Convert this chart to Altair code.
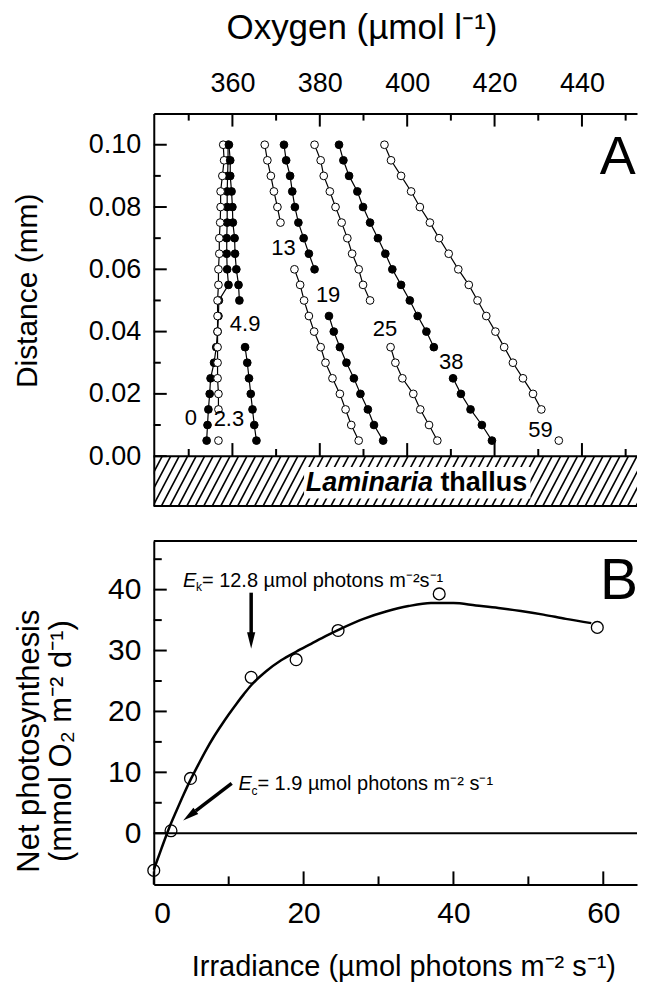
import altair as alt
import pandas as pd

FONT = "Liberation Sans"

# ---------------- Panel A: oxygen micro-profiles ----------------
DIST = [0.100, 0.095, 0.090, 0.085, 0.080, 0.075, 0.070, 0.065, 0.060, 0.055,
        0.050, 0.045, 0.040, 0.035, 0.030, 0.025, 0.020, 0.015, 0.010, 0.005]

O2_0 = [359.0, 359.0, 358.9, 358.8, 358.8, 358.8, 358.7, 358.7, 358.8, 359.1,
        356.9, 356.8, 356.6, 356.3, 355.8, 355.0, 354.8, 354.5, 354.3, 354.1]
O2_2_3 = [357.9, 358.1, 357.7, 357.3, 357.3, 357.2, 357.0, 357.0, 356.8, 356.8,
          356.6, 356.6, 356.6, 356.6, 356.6, 356.6, 356.8, 356.8, None, 356.8]
O2_4_9 = [359.2, 359.5, 359.5, 359.8, 360.0, 360.1, 360.5, 360.6, 360.9, 361.4,
          361.6, None, None, 362.9, 363.4, 363.8, 364.2, 364.6, 365.0, 365.5]
O2_13 = [367.4, 368.0, 368.8, 369.5, 370.3, 371.0, None, None, 374.2, 375.5,
         376.4, 377.5, 378.7, 380.2, 381.3, 382.9, 384.6, 385.9, 387.2, 388.9]
O2_19 = [371.8, 372.3, 373.2, 373.7, 374.3, 375.1, 376.3, 377.5, 378.8, None,
         None, 382.1, 383.2, 384.6, 386.1, 387.8, 389.3, 391.0, 392.4, 394.5]
O2_25 = [378.8, 380.2, 380.9, 382.3, 383.6, 385.0, 386.3, 387.4, 388.9, 389.9,
         391.5, None, None, 396.2, 397.3, 398.9, 401.4, 403.0, 405.0, 406.9]
O2_38 = [384.4, 385.4, 386.7, 388.6, 389.9, 391.5, 393.3, 395.0, 396.6, 398.6,
         400.6, 402.4, 404.4, 406.1, None, 410.5, 412.3, 414.5, 417.1, 419.4]
O2_59 = [394.8, 396.3, 398.6, 400.9, 402.9, 405.2, 407.3, 409.5, 411.7, 414.1,
         416.1, 418.1, 420.2, 422.2, 424.2, 426.5, 428.8, 430.7, None, 434.7]

PROFILE_NAMES = ["0", "2.3", "4.9", "13", "19", "25", "38", "59"]
PROFILE_STYLE = ["filled", "open", "filled", "open", "filled", "open", "filled", "open"]
PROFILES = [O2_0, O2_2_3, O2_4_9, O2_13, O2_19, O2_25, O2_38, O2_59]

LABEL_X = [350.5, 359.2, 362.9, 371.7, 381.9, 394.9, 410.1, 430.5]
LABEL_Y = [0.0123, 0.0118, 0.0424, 0.0668, 0.0518, 0.0409, 0.0301, 0.0085]

A_X_MAJOR = [360, 380, 400, 420, 440]
A_X_MINOR = [350, 370, 390, 410, 430, 450]
A_Y_MAJOR = [0.0, 0.02, 0.04, 0.06, 0.08, 0.10]
A_Y_MINOR = [0.01, 0.03, 0.05, 0.07, 0.09]

# ---------------- Panel B: P-I curve ----------------
IRR = [0.0, 2.3, 4.9, 13.0, 19.0, 24.6, 38.1, 59.2]
NETPS = [-6.1, 0.4, 9.0, 25.6, 28.5, 33.3, 39.3, 33.8]
FIT_IRR = [0, 1, 2, 3, 4, 5, 6, 7, 8, 9, 10, 11, 12, 13, 15, 17, 19, 21, 23, 25,
           28, 31, 34, 37, 40, 43, 46, 49, 52, 55, 58.4]
FIT_NETPS = [-6.0, -2.6, 0.7, 3.6, 6.4, 9.0, 11.4, 13.7, 15.8, 17.7, 19.5, 21.2,
             22.8, 24.3, 26.6, 28.4, 29.8, 31.1, 32.4, 33.6, 35.2, 36.4, 37.3,
             37.8, 37.8, 37.4, 37.0, 36.5, 35.9, 35.2, 34.5]

B_X_MAJOR = [0, 20, 40, 60]
B_X_MINOR = [10, 30, 50]
B_Y_MAJOR = [0, 10, 20, 30, 40]
B_Y_MINOR = [5, 15, 25, 35, 45]

# ---------------- tables ----------------
rows = []
for name, style, vals in zip(PROFILE_NAMES, PROFILE_STYLE, PROFILES):
    seg = 0
    for d, v in zip(DIST, vals):
        if v is None:
            seg += 1
            continue
        rows.append({"x": v, "y": d, "profile": name, "style": style,
                     "seg": f"{name}-{seg}"})
prof_df = pd.DataFrame(rows)
lab_df = pd.DataFrame({"x": LABEL_X, "y": LABEL_Y, "t": PROFILE_NAMES})

pts_df = pd.DataFrame({"x": IRR, "y": NETPS})
fit_df = pd.DataFrame({"x": FIT_IRR, "y": FIT_NETPS})

W = 484
HA = 393
HB = 344
XA_DOM = [342, 452.6]
YA_DOM = [-0.016, 0.11]
XB_DOM = [0, 64.5]
YB_DOM = [-8.4, 48]

sxa = alt.Scale(domain=XA_DOM, nice=False, zero=False)
sya = alt.Scale(domain=YA_DOM, nice=False, zero=False)
sxb = alt.Scale(domain=XB_DOM, nice=False, zero=False)
syb = alt.Scale(domain=YB_DOM, nice=False, zero=False)

axa = alt.Axis(orient="top", values=A_X_MAJOR, ticks=False, tickSize=0,
               labelFontSize=27, labelPadding=16, domainWidth=2,
               titleFontSize=35, titleFontWeight="normal", titlePadding=24,
               titleX=208, grid=False)
aya = alt.Axis(values=A_Y_MAJOR, format=".2f", ticks=False, tickSize=0,
               labelFontSize=27, labelPadding=13, domainWidth=2,
               titleFontSize=30, titleFontWeight="normal", titlePadding=46,
               titleY=177, grid=False)
axb = alt.Axis(orient="bottom", values=B_X_MAJOR, ticks=False, tickSize=0,
               labelFontSize=30, labelPadding=14, domainWidth=2,
               titleFontSize=29, titleFontWeight="normal", titlePadding=24,
               titleX=250, grid=False)
ayb = alt.Axis(values=B_Y_MAJOR, ticks=False, tickSize=0,
               labelFontSize=30, labelPadding=13, domainWidth=2,
               titleFontSize=31, titleFontWeight="normal", titlePadding=30,
               titleLineHeight=32, titleY=200, grid=False)

TITLE_XA = "Oxygen (µmol l⁻¹)"
TITLE_YA = "Distance (mm)"
TITLE_XB = "Irradiance (µmol photons m⁻² s⁻¹)"
TITLE_YB = ["Net photosynthesis", "(mmol O₂ m⁻² d⁻¹)"]


def xa(f="x"):
    return alt.X(f"{f}:Q", scale=sxa, axis=axa, title=TITLE_XA)


def ya(f="y"):
    return alt.Y(f"{f}:Q", scale=sya, axis=aya, title=TITLE_YA)


def xb(f="x"):
    return alt.X(f"{f}:Q", scale=sxb, axis=axb, title=TITLE_XB)


def yb(f="y"):
    return alt.Y(f"{f}:Q", scale=syb, axis=ayb, title=TITLE_YB)


one = pd.DataFrame({"k": [0]})

# ---------- Panel A layers ----------
hatch = alt.Chart(alt.sequence(0, 64, as_="i")).transform_calculate(
    x="336 + datum.i * 1.94", x2="datum.x + 6.0", y="-0.016", y2="0"
).mark_rule(clip=True, strokeWidth=1.6, color="black").encode(
    x=xa("x"), x2="x2:Q", y=ya("y"), y2="y2:Q")

white_box = alt.Chart(one).mark_rect(color="white").encode(
    x=alt.datum(376.4), x2=alt.datum(428.2), y=alt.datum(-0.0035), y2=alt.datum(-0.0136))

lam1 = alt.Chart(one).mark_text(text="Laminaria", fontStyle="italic", fontWeight="bold",
                                fontSize=27, align="right", baseline="middle",
                                color="black").encode(
    x=alt.datum(405.9), y=alt.datum(-0.0087))
lam2 = alt.Chart(one).mark_text(text="thallus", fontWeight="bold",
                                fontSize=27, align="left", baseline="middle",
                                color="black").encode(
    x=alt.datum(407.6), y=alt.datum(-0.0087))

rule_zero_a = alt.Chart(one).mark_rule(strokeWidth=2, color="black").encode(y=alt.datum(0))
rule_bot_a = alt.Chart(one).mark_rule(strokeWidth=2, color="black").encode(y=alt.datum(-0.016))

prof_lines = alt.Chart(prof_df).mark_line(color="black", strokeWidth=1.2).encode(
    x=xa(), y=ya(), detail="seg:N", order=alt.Order("y:Q"))
prof_pts = alt.Chart(prof_df).mark_point(shape="circle", size=60, filled=True,
                                         stroke="black", strokeWidth=1, opacity=1).encode(
    x=xa(), y=ya(),
    fill=alt.Fill("style:N", scale=alt.Scale(domain=["filled", "open"],
                                             range=["black", "white"]), legend=None))
prof_labels = alt.Chart(lab_df).mark_text(fontSize=22, align="center", baseline="middle",
                                          color="black").encode(
    x=xa(), y=ya(), text="t:N")

ta_top_major = alt.Chart(pd.DataFrame({"x": A_X_MAJOR})).mark_rule(strokeWidth=2, color="black").encode(
    x=xa(), y=alt.value(0), y2=alt.value(13))
ta_top_minor = alt.Chart(pd.DataFrame({"x": A_X_MINOR})).mark_rule(strokeWidth=2, color="black").encode(
    x=xa(), y=alt.value(0), y2=alt.value(7))
ta_bot_major = alt.Chart(pd.DataFrame({"x": A_X_MAJOR})).mark_rule(strokeWidth=2, color="black").encode(
    x=xa(), y=alt.datum(0), y2=alt.datum(0.0042))
ta_bot_minor = alt.Chart(pd.DataFrame({"x": A_X_MINOR})).mark_rule(strokeWidth=2, color="black").encode(
    x=xa(), y=alt.datum(0), y2=alt.datum(0.0023))
ta_left_major = alt.Chart(pd.DataFrame({"y": A_Y_MAJOR})).mark_rule(strokeWidth=2, color="black").encode(
    y=ya(), x=alt.value(0), x2=alt.value(13))
ta_left_minor = alt.Chart(pd.DataFrame({"y": A_Y_MINOR})).mark_rule(strokeWidth=2, color="black").encode(
    y=ya(), x=alt.value(0), x2=alt.value(7))

letter_a = alt.Chart(one).mark_text(text="A", fontSize=54, align="center", baseline="middle",
                                    color="black").encode(
    x=alt.datum(448.2), y=alt.datum(0.0958))

panel_a = alt.layer(
    hatch, white_box, lam1, lam2, rule_zero_a, rule_bot_a,
    prof_lines, prof_pts, prof_labels,
    ta_top_major, ta_top_minor, ta_bot_major, ta_bot_minor, ta_left_major, ta_left_minor,
    letter_a,
).properties(width=W, height=HA)

# ---------- Panel B layers ----------
zero_b = alt.Chart(one).mark_rule(strokeWidth=2, color="black").encode(y=alt.datum(0))
top_b = alt.Chart(one).mark_rule(strokeWidth=2, color="black").encode(y=alt.value(0))

curve = alt.Chart(fit_df).mark_line(color="black", strokeWidth=2.5, interpolate="monotone").encode(
    x=xb(), y=yb())
pts_b = alt.Chart(pts_df).mark_point(shape="circle", size=140, filled=False, stroke="black",
                                     strokeWidth=1.3, opacity=1).encode(x=xb(), y=yb())

ARROW_DOWN = "M0,1L-0.5,-1L0.5,-1Z"
ek_shaft = alt.Chart(one).mark_rule(strokeWidth=3.5, color="black").encode(
    x=alt.datum(13), y=alt.datum(39.5), y2=alt.datum(32.8))
ek_head = alt.Chart(one).mark_point(shape=ARROW_DOWN, size=272, filled=True, color="black",
                                    opacity=1).encode(x=alt.datum(13), y=alt.datum(31.65))
ec_shaft = alt.Chart(one).mark_rule(strokeWidth=3.5, color="black").encode(
    x=alt.datum(10.4), y=alt.datum(8.2), x2=alt.datum(5.6), y2=alt.datum(3.66))
ec_head = alt.Chart(one).mark_point(shape=ARROW_DOWN, size=256, filled=True, color="black",
                                    opacity=1, angle=52.5).encode(x=alt.datum(4.77), y=alt.datum(2.87))


def annot(xv, yv, sub, rest):
    e = alt.Chart(one).mark_text(text="E", fontStyle="italic", fontSize=20, align="left",
                                 baseline="middle", color="black").encode(
        x=alt.datum(xv), y=alt.datum(yv))
    s = alt.Chart(one).mark_text(text=sub, fontSize=12, align="left", baseline="middle",
                                 dx=13, dy=7, color="black").encode(
        x=alt.datum(xv), y=alt.datum(yv))
    r = alt.Chart(one).mark_text(text=rest, fontSize=20, align="left", baseline="middle",
                                 dx=19, color="black").encode(
        x=alt.datum(xv), y=alt.datum(yv))
    return [e, s, r]


ek_text = annot(3.9, 41.5, "k", "= 12.8 µmol photons m⁻²s⁻¹")
ec_text = annot(11.3, 8.1, "c", "= 1.9 µmol photons m⁻² s⁻¹")

tb_bot_major = alt.Chart(pd.DataFrame({"x": B_X_MAJOR})).mark_rule(strokeWidth=2, color="black").encode(
    x=xb(), y=alt.datum(-8.4), y2=alt.datum(-6.27))
tb_bot_minor = alt.Chart(pd.DataFrame({"x": B_X_MINOR})).mark_rule(strokeWidth=2, color="black").encode(
    x=xb(), y=alt.datum(-8.4), y2=alt.datum(-7.09))
tb_left_major = alt.Chart(pd.DataFrame({"y": B_Y_MAJOR})).mark_rule(strokeWidth=2, color="black").encode(
    y=yb(), x=alt.value(0), x2=alt.value(13))
tb_left_minor = alt.Chart(pd.DataFrame({"y": B_Y_MINOR})).mark_rule(strokeWidth=2, color="black").encode(
    y=yb(), x=alt.value(0), x2=alt.value(8))

letter_b = alt.Chart(one).mark_text(text="B", fontSize=57, align="center", baseline="middle",
                                    color="black").encode(
    x=alt.datum(62.1), y=alt.datum(41.3))

panel_b = alt.layer(
    zero_b, top_b, curve, pts_b, ek_shaft, ek_head, ec_shaft, ec_head,
    *ek_text, *ec_text,
    tb_bot_major, tb_bot_minor, tb_left_major, tb_left_minor, letter_b,
).properties(width=W, height=HB)

chart = alt.vconcat(panel_a, panel_b, spacing=33).properties(
    padding={"left": 4, "top": 2, "right": 0, "bottom": 0}
).configure(font=FONT).configure_view(stroke=None).configure_axis(
    domainColor="black", labelColor="black", titleColor="black", labelFont=FONT, titleFont=FONT
)

chart.save("out.html", embed_options={"renderer": "svg", "actions": False})
